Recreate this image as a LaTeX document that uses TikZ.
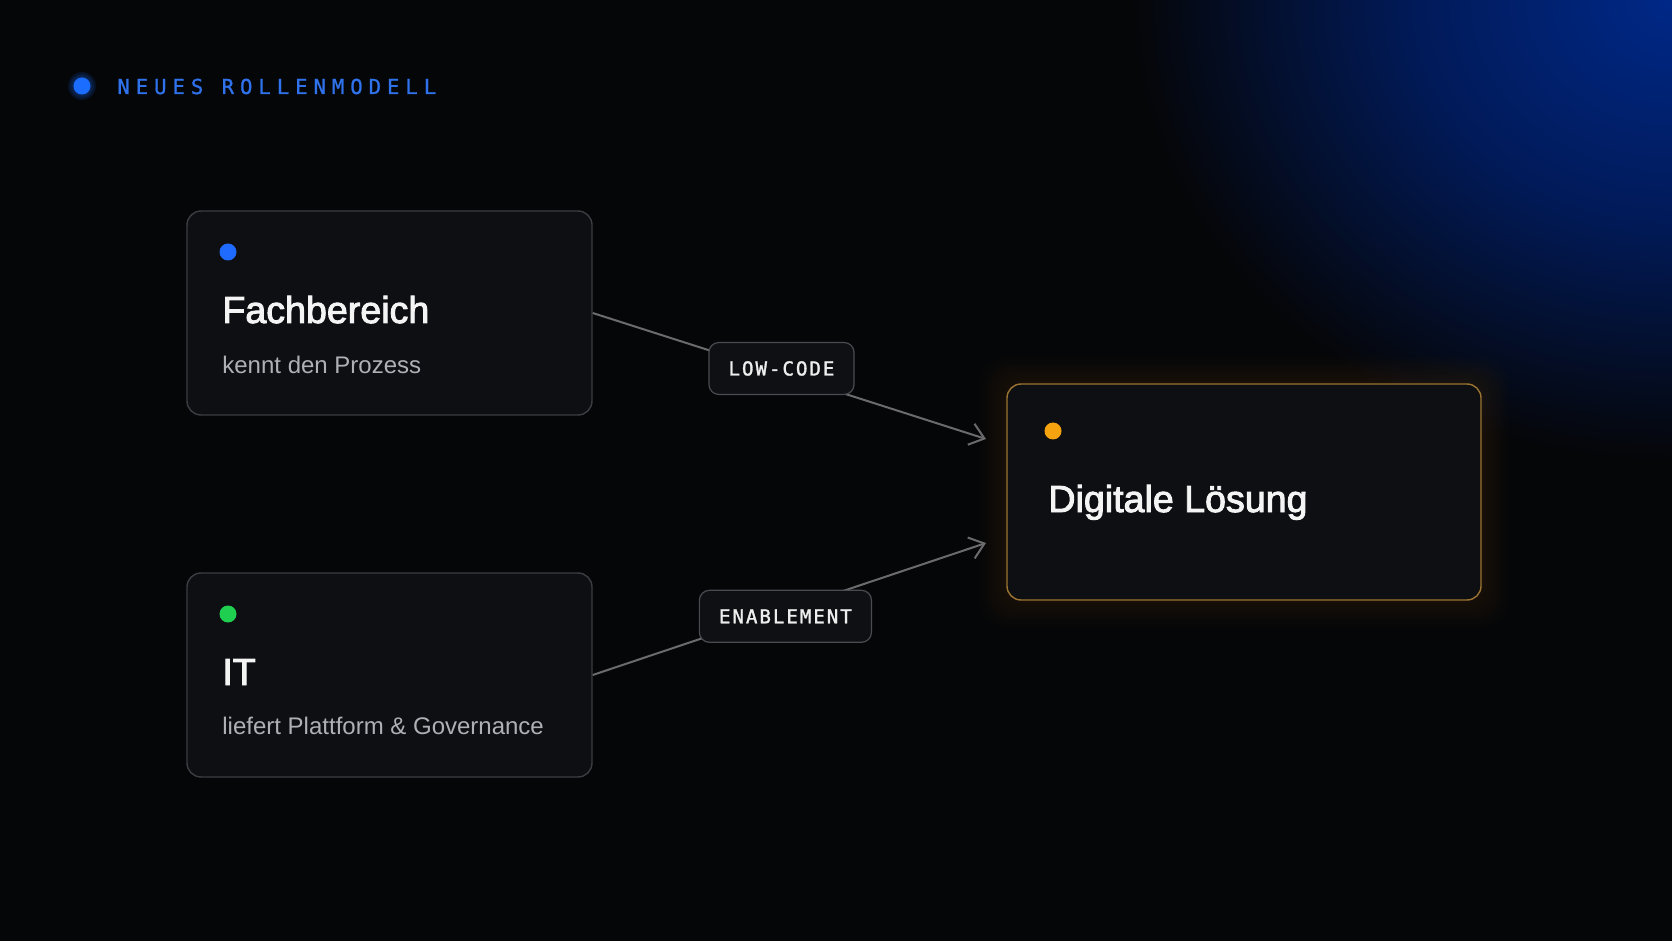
\documentclass[tikz,border=0pt]{standalone}
\usepackage{fontspec}
\setmainfont{Liberation Sans}
\newfontfamily\titlefont[FakeBold=2.5]{Liberation Sans}
\newfontfamily\tagfont[LetterSpace=10, FakeBold=1.5]{DejaVu Sans Mono}
\newfontfamily\headfont[LetterSpace=29, FakeBold=1]{DejaVu Sans Mono}
\usetikzlibrary{arrows.meta}
\definecolor{bg}{HTML}{050608}
\definecolor{glowblue}{HTML}{002887}
\definecolor{glowmid}{HTML}{011A58}
\definecolor{gloworange}{HTML}{B07A10}
\definecolor{cardfill}{HTML}{0E0F12}
\definecolor{cardline}{HTML}{3C3D42}
\definecolor{goalline}{HTML}{9A7430}
\definecolor{titlecol}{HTML}{F4F4F5}
\definecolor{subcol}{HTML}{AEB0B6}
\definecolor{tagfill}{HTML}{0F1013}
\definecolor{tagline}{HTML}{4A4B50}
\definecolor{tagtext}{HTML}{EEEEEE}
\definecolor{flowcol}{HTML}{6B6B6E}
\definecolor{dotblue}{HTML}{1F6BFF}
\definecolor{dotgreen}{HTML}{1FCF4F}
\definecolor{dotorange}{HTML}{F5A30F}
\definecolor{headblue}{HTML}{2F72EC}
\definecolor{headdot}{HTML}{1A6DFF}
\pgfdeclareradialshading{blueglow}{\pgfpoint{0bp}{0bp}}{color(0bp)=(glowblue);
  color(12bp)=(glowmid); color(25bp)=(bg); color(50bp)=(bg)}
\tikzset{
  card/.style={draw=cardline, fill=cardfill, line width=0.7pt, rounded corners=7pt,
    minimum width=202.5pt, minimum height=102pt, inner sep=0pt},
  bullet/.style={circle, fill=#1, minimum size=8.5pt, inner sep=0pt},
  title/.style={anchor=base west, inner sep=0pt, text=titlecol,
    font=\titlefont\fontsize{18.8}{22}\selectfont},
  sub/.style={anchor=base west, inner sep=0pt, text=subcol,
    font=\fontsize{12}{14}\selectfont},
  tag/.style={draw=tagline, fill=tagfill, line width=0.6pt, rounded corners=5pt,
    text=tagtext, font=\tagfont\fontsize{9.6}{11}\selectfont,
    minimum height=26pt, inner xsep=9.8pt},
  flow/.style={draw=flowcol, line width=1pt, -{Straight Barb[length=7pt,width=11pt]}}
}
\begin{document}
\begin{tikzpicture}[x=0.5pt, y=-0.5pt]
\fill[bg] (0,0) rectangle (1672,941);
\begin{scope}
\clip (0,0) rectangle (1672,941);
\shade[shading=blueglow] (1672,0) ellipse (270pt and 230pt);
\end{scope}
\foreach \g in {3,6,...,27}
  \fill[gloworange, opacity=0.016, rounded corners=12pt] (1007-\g,384-\g) rectangle (1481+\g,600+\g);

\foreach \r in {5,6,7}
  \fill[headdot, opacity=0.12] (82,86) circle (\r pt);
\node[bullet=headdot] (headDot) at (82,86) {};
\node[anchor=base west, inner sep=0pt, text=headblue, font=\headfont\fontsize{10.3}{12}\selectfont]
  (head) at (117,94) {NEUES ROLLENMODELL};

\node[card] (fach) at (389.5,313) {};
\node[bullet=dotblue] (fachDot) at (228,252) {};
\node[title] (fachT) at (222,323) {Fachbereich};
\node[sub] (fachS) at (222,373) {kennt den Prozess};

\node[card] (it) at (389.5,675) {};
\node[bullet=dotgreen] (itDot) at (228,614) {};
\node[title] (itT) at (222,685) {IT};
\node[sub] (itS) at (222,734) {liefert Plattform \& Governance};

\node[card, draw=goalline, minimum width=237pt, minimum height=108pt] (loesung) at (1244,492) {};
\node[bullet=dotorange] (loesungDot) at (1053,431) {};
\node[title] (loesungT) at (1048,512) {Digitale Lösung};

\coordinate (inA) at (986,439);
\coordinate (inB) at (986,543);
\draw[flow] (fach.east) -- node[tag, pos=0.48, yshift=2.5pt] (lowcode) {LOW-CODE} (inA);
\draw[flow] (it.east) -- node[tag, pos=0.49, yshift=-3pt] (enable) {ENABLEMENT} (inB);
\end{tikzpicture}
\end{document}
